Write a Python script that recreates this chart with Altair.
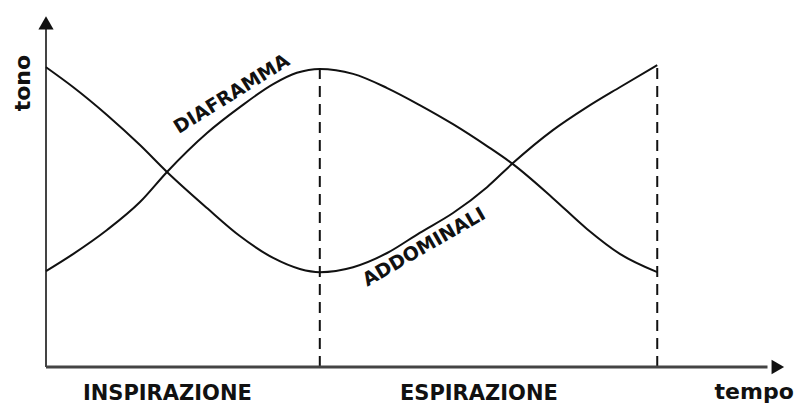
import altair as alt
import pandas as pd

# --- data (time 0..100, tone 0..100) ---
t_addominali = [0, 3.65, 8.24, 12.7, 16.35, 21.76, 26.2, 30.7, 34.3, 37.0, 41.5, 46.1, 50.5, 55.0, 59.6, 63.1, 68.5, 73.1, 77.6, 82.6]
v_addominali = [84.7, 79.1, 71.2, 62.7, 55.1, 44.9, 37.0, 30.8, 27.7, 26.8, 28.2, 32.2, 37.9, 43.5, 50.8, 57.6, 66.9, 73.4, 79.1, 85.3]

t_diaframma = [0, 3.65, 8.24, 12.7, 16.35, 21.76, 26.2, 30.7, 33.9, 37.0, 41.5, 46.1, 50.5, 55.0, 59.6, 63.1, 68.5, 73.1, 77.6, 82.6]
v_diaframma = [27.1, 31.9, 38.7, 46.6, 55.1, 66.1, 73.4, 79.9, 83.1, 84.2, 82.8, 78.8, 74.0, 68.6, 62.4, 57.3, 47.7, 39.0, 31.9, 26.8]

phase_bounds_t = [37.0, 82.6]
phase_bounds_top = [84.2, 85.3]

phase_labels = ["INSPIRAZIONE", "ESPIRAZIONE"]
phase_label_t = [16.4, 58.5]

curve_labels = ["DIAFRAMMA", "ADDOMINALI"]
curve_label_t = [25.1, 51.1]
curve_label_v = [77.1, 33.9]
curve_label_angle = [328, 330]

x_title = "tempo"
y_title = "tono"

XS = alt.Scale(domain=[0, 100], nice=False, zero=False)
YS = alt.Scale(domain=[0, 100], nice=False, zero=False)
INK = "#111111"
FONT = "DejaVu Sans"


def X(f="t"):
    return alt.X(f"{f}:Q", scale=XS, axis=None)


def Y(f="v"):
    return alt.Y(f"{f}:Q", scale=YS, axis=None)


curves = pd.DataFrame(
    {"t": t_addominali + t_diaframma,
     "v": v_addominali + v_diaframma,
     "s": ["ADDOMINALI"] * len(t_addominali) + ["DIAFRAMMA"] * len(t_diaframma)}
)
lines = alt.Chart(curves).mark_line(
    interpolate="monotone", color=INK, strokeWidth=2
).encode(x=X(), y=Y(), detail="s:N")

bounds = pd.DataFrame({"t": phase_bounds_t, "v0": [0, 0], "v1": phase_bounds_top})
dashed = alt.Chart(bounds).mark_rule(
    color=INK, strokeWidth=2, strokeDash=[11, 7]
).encode(x=X(), y=Y("v0"), y2="v1:Q")

axes_df = pd.DataFrame({"t": [0.0], "t2": [97.5], "v": [0.0], "v2": [95.5]})
y_axis = alt.Chart(axes_df).mark_rule(color="#444444", strokeWidth=2).encode(
    x=X(), y=Y(), y2="v2:Q")
x_axis = alt.Chart(axes_df).mark_rule(color="#444444", strokeWidth=3).encode(
    x=X(), x2="t2:Q", y=Y())

arrow_up = alt.Chart(pd.DataFrame({"t": [0.0], "v": [97.2]})).mark_point(
    shape="triangle-up", filled=True, color=INK, size=230, opacity=1
).encode(x=X(), y=Y())
arrow_right = alt.Chart(pd.DataFrame({"t": [98.9], "v": [0.0]})).mark_point(
    shape="triangle-right", filled=True, color=INK, size=210, opacity=1
).encode(x=X(), y=Y())

phase_df = pd.DataFrame({"label": phase_labels, "t": phase_label_t, "v": [-10.4, -10.4]})
phase_text = alt.Chart(phase_df).mark_text(
    font=FONT, fontSize=21, fontWeight="bold", color=INK, baseline="bottom", align="center"
).encode(x=X(), y=Y(), text="label:N")

x_title_txt = alt.Chart(pd.DataFrame({"label": [x_title], "t": [95.7], "v": [-10.4]})).mark_text(
    font=FONT, fontSize=22, fontWeight="bold", color=INK, baseline="bottom", align="center"
).encode(x=X(), y=Y(), text="label:N")

y_title_txt = alt.Chart(pd.DataFrame({"label": [y_title], "t": [-3.1], "v": [80.2]})).mark_text(
    font=FONT, fontSize=22, fontWeight="bold", color=INK, baseline="middle", align="center", angle=270
).encode(x=X(), y=Y(), text="label:N")

curve_layers = []
for lab, tt, vv, ang in zip(curve_labels, curve_label_t, curve_label_v, curve_label_angle):
    curve_layers.append(
        alt.Chart(pd.DataFrame({"label": [lab], "t": [tt], "v": [vv]})).mark_text(
            font=FONT, fontSize=19, fontWeight="bold", color=INK,
            baseline="middle", align="center", angle=ang
        ).encode(x=X(), y=Y(), text="label:N")
    )

chart = alt.layer(
    dashed, y_axis, x_axis, arrow_up, arrow_right, lines,
    phase_text, x_title_txt, y_title_txt, *curve_layers
).properties(
    width=740, height=354,
    autosize=alt.AutoSizeParams(type="none"),
    padding={"left": 38, "top": 5, "right": 10, "bottom": 39},
    background="white",
).configure_view(stroke=None)

chart.save("out.html", embed_options={"renderer": "svg", "actions": False})
